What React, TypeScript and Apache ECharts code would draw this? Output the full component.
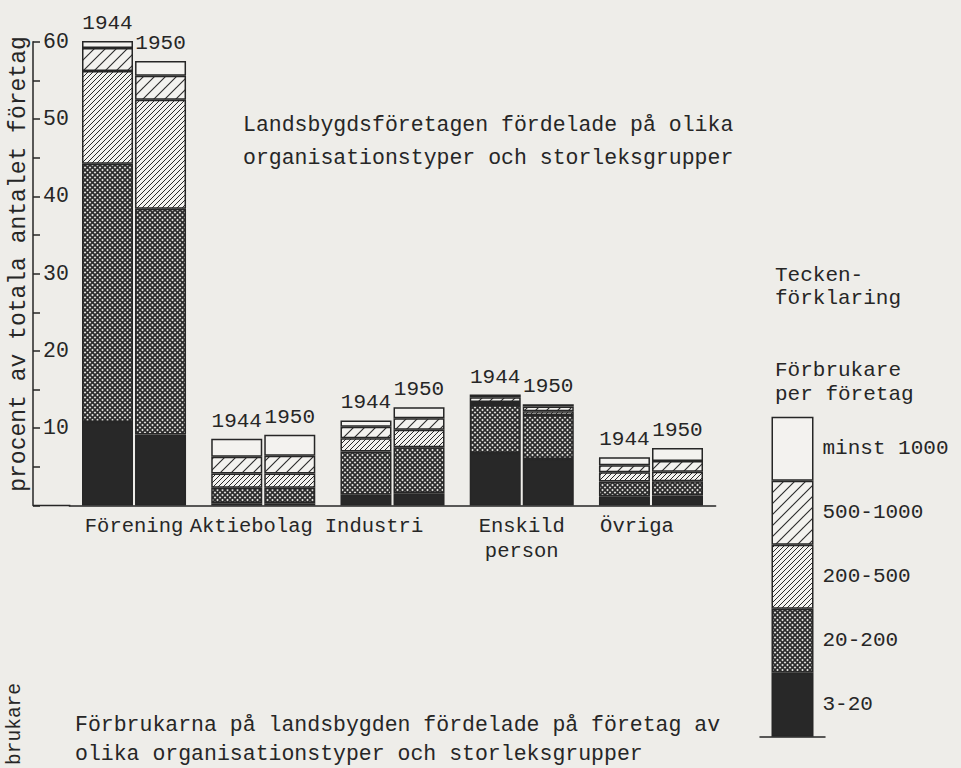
import React, { useEffect, useRef } from 'react';
import * as echarts from 'echarts';

// ---------- data ----------
const categories = ['Förening', 'Aktiebolag', 'Industri', 'Enskild\nperson', 'Övriga'];
const years = ['1944', '1950'];
const sizeGroups = ['3-20', '20-200', '200-500', '500-1000', 'minst 1000'];

// procent av totala antalet företag, per category, 1944
const y1944_3_20 = [10.8, 0.3, 1.4, 6.8, 1.2];
const y1944_20_200 = [33.4, 2.0, 5.6, 6.2, 1.9];
const y1944_200_500 = [12.0, 1.85, 1.7, 0.4, 1.2];
const y1944_500_1000 = [3.0, 2.15, 1.5, 0.6, 0.9];
const y1944_1000 = [1.1, 2.35, 0.8, 0.35, 1.05];

// 1950
const y1950_3_20 = [9.2, 0.3, 1.6, 6.0, 1.3];
const y1950_20_200 = [29.2, 2.0, 5.95, 5.7, 1.85];
const y1950_200_500 = [14.1, 1.85, 2.25, 0.5, 1.2];
const y1950_500_1000 = [3.1, 2.3, 1.5, 0.6, 1.4];
const y1950_1000 = [1.9, 2.7, 1.4, 0.3, 1.7];

const yMin = 0;
const yMax = 60;
const yStep = 10;

const titleText = 'Landsbygdsföretagen fördelade på olika\norganisationstyper och storleksgrupper';
const yAxisName = 'procent av totala antalet företag';
const legendTitle1 = 'Tecken-\nförklaring';
const legendTitle2 = 'Förbrukare\nper företag';
const nextChartTitle = 'Förbrukarna på landsbygden fördelade på företag av\nolika organisationstyper och storleksgrupper';
const nextChartAxisName = 'brukare';

const dataByYear = [
  [y1944_3_20, y1944_20_200, y1944_200_500, y1944_500_1000, y1944_1000],
  [y1950_3_20, y1950_20_200, y1950_200_500, y1950_500_1000, y1950_1000],
];

// ---------- styles ----------
const FONT = 'Liberation Mono';
const INK = '#262626';
const PAPER = '#eeede9';
const BAR_WHITE = '#f3f2ef';

// tile with diagonal lines; dirs: 1 = "/", -1 = "\"
function hatchTile(size: number, dirs: number[], lineWidth: number, bg: string, fg: string): any {
  const c = document.createElement('canvas');
  c.width = size;
  c.height = size;
  const ctx = c.getContext('2d')!;
  ctx.fillStyle = bg;
  ctx.fillRect(0, 0, size, size);
  ctx.strokeStyle = fg;
  ctx.lineWidth = lineWidth;
  ctx.lineCap = 'square';
  dirs.forEach((d) => {
    for (let k = -1; k <= 1; k++) {
      ctx.beginPath();
      if (d === 1) {
        ctx.moveTo(k * size, size);
        ctx.lineTo(k * size + size, 0);
      } else {
        ctx.moveTo(k * size, 0);
        ctx.lineTo(k * size + size, size);
      }
      ctx.stroke();
    }
  });
  return {
    image: c.toDataURL(),
    repeat: 'repeat',
    imageWidth: size,
    imageHeight: size,
  };
}

const GRID_LEFT = 69.4;
const GRID_RIGHT = 245.4;
const GRID_TOP = 41.7;
const GRID_BOTTOM = 262.5;
const AXIS_X = 33;

function buildOption(): any {
  const groupFills: any[] = [
    '#282828',
    hatchTile(5, [1, -1], 1.7, '#e4e3df', '#2c2c2c'),
    hatchTile(5, [1], 1.0, BAR_WHITE, '#2a2a2a'),
    hatchTile(11, [1], 1.1, BAR_WHITE, '#2a2a2a'),
    BAR_WHITE,
  ];

  const series: any[] = [];
  years.forEach((year, yi) => {
    sizeGroups.forEach((g, gi) => {
      series.push({
        type: 'bar',
        name: g,
        stack: year,
        xAxisIndex: 0,
        yAxisIndex: 0,
        barWidth: 51,
        barGap: '4%',
        data: dataByYear[yi][gi],
        itemStyle: {
          color: groupFills[gi],
          borderColor: INK,
          borderWidth: 1.5,
        },
        emphasis: { disabled: true },
        label:
          gi === sizeGroups.length - 1
            ? {
                show: true,
                position: 'top',
                distance: 7,
                formatter: () => year,
                fontFamily: FONT,
                fontSize: 21,
                color: INK,
              }
            : { show: false },
      });
    });
  });

  // legend column
  sizeGroups.forEach((g, gi) => {
    series.push({
      type: 'bar',
      name: g,
      stack: 'legend',
      xAxisIndex: 1,
      yAxisIndex: 1,
      barWidth: 42,
      data: [1],
      itemStyle: {
        color: groupFills[gi],
        borderColor: INK,
        borderWidth: 1.5,
      },
      emphasis: { disabled: true },
      label: {
        show: true,
        position: 'right',
        distance: 9,
        formatter: () => g,
        fontFamily: FONT,
        fontSize: 21,
        color: INK,
      },
    });
  });

  const labelShift: Record<number, number> = { 1: 24, 2: 37, 4: 28 };
  const rich: any = {};
  Object.keys(labelShift).forEach((k) => {
    rich['s' + k] = {
      fontFamily: FONT,
      fontSize: 20.5,
      color: INK,
      padding: [0, labelShift[Number(k)], 0, 0],
    };
  });

  return {
    animation: false,
    backgroundColor: PAPER,
    textStyle: { fontFamily: FONT },
    grid: [
      { left: GRID_LEFT, right: GRID_RIGHT, top: GRID_TOP, bottom: GRID_BOTTOM },
      { left: 760, width: 65, top: 416.7, bottom: 31.3 },
    ],
    xAxis: [
      {
        type: 'category',
        gridIndex: 0,
        data: categories,
        axisTick: { show: false },
        axisLine: { show: true, lineStyle: { color: INK, width: 1.5 } },
        axisLabel: {
          interval: 0,
          margin: 8,
          fontFamily: FONT,
          fontSize: 20.5,
          lineHeight: 25,
          color: INK,
          formatter: (v: string, i: number) => (labelShift[i] ? `{s${i}|${v}}` : v),
          rich,
        },
      },
      {
        type: 'category',
        gridIndex: 1,
        data: [''],
        axisTick: { show: false },
        axisLabel: { show: false },
        axisLine: { show: true, lineStyle: { color: INK, width: 1.5 } },
      },
    ],
    yAxis: [
      {
        type: 'value',
        gridIndex: 0,
        min: yMin,
        max: yMax,
        interval: yStep,
        offset: GRID_LEFT - AXIS_X,
        axisLine: { show: true, lineStyle: { color: INK, width: 1.5 } },
        axisTick: { show: true, inside: true, length: 7, lineStyle: { color: INK, width: 1.5 } },
        minorTick: { show: true, splitNumber: 2, length: 7, lineStyle: { color: INK, width: 1.5 } },
        splitLine: { show: false },
        axisLabel: {
          inside: true,
          margin: 10,
          fontFamily: FONT,
          fontSize: 21.5,
          color: INK,
          formatter: (v: number) => (v === 0 ? '' : String(v)),
        },
      },
      {
        type: 'value',
        gridIndex: 1,
        min: 0,
        max: sizeGroups.length,
        show: false,
      },
    ],
    series,
    graphic: [
      {
        type: 'line',
        shape: { x1: AXIS_X, y1: 768 - GRID_BOTTOM, x2: GRID_LEFT + 1, y2: 768 - GRID_BOTTOM },
        style: { stroke: INK, lineWidth: 1.5 },
        silent: true,
      },
      {
        type: 'text',
        x: 19,
        y: 264,
        rotation: Math.PI / 2,
        style: {
          text: yAxisName,
          fontFamily: FONT,
          fontSize: 23,
          fill: INK,
          align: 'center',
          verticalAlign: 'middle',
        },
      },
      {
        type: 'text',
        x: 243,
        y: 108.5,
        style: {
          text: titleText,
          fontFamily: FONT,
          fontSize: 21.5,
          lineHeight: 33,
          fill: INK,
          align: 'left',
          verticalAlign: 'top',
        },
      },
      {
        type: 'text',
        x: 775,
        y: 263.5,
        style: {
          text: legendTitle1,
          fontFamily: FONT,
          fontSize: 21,
          lineHeight: 23,
          fill: INK,
          align: 'left',
          verticalAlign: 'top',
        },
      },
      {
        type: 'text',
        x: 775,
        y: 358,
        style: {
          text: legendTitle2,
          fontFamily: FONT,
          fontSize: 21,
          lineHeight: 24,
          fill: INK,
          align: 'left',
          verticalAlign: 'top',
        },
      },
      {
        type: 'text',
        x: 75,
        y: 710.5,
        style: {
          text: nextChartTitle,
          fontFamily: FONT,
          fontSize: 21.5,
          lineHeight: 29,
          fill: INK,
          align: 'left',
          verticalAlign: 'top',
        },
      },
      {
        type: 'text',
        x: 15,
        y: 683,
        rotation: Math.PI / 2,
        style: {
          text: nextChartAxisName,
          fontFamily: FONT,
          fontSize: 19.5,
          fill: INK,
          align: 'right',
          verticalAlign: 'middle',
        },
      },
    ],
  };
}

export default function App() {
  const ref = useRef<HTMLDivElement>(null);
  useEffect(() => {
    document.body.style.margin = '0';
    const chart = echarts.init(ref.current!, null, { renderer: 'svg' });
    chart.setOption(buildOption());
    return () => chart.dispose();
  }, []);
  return <div ref={ref} style={{ width: 961, height: 768 }} />;
}
